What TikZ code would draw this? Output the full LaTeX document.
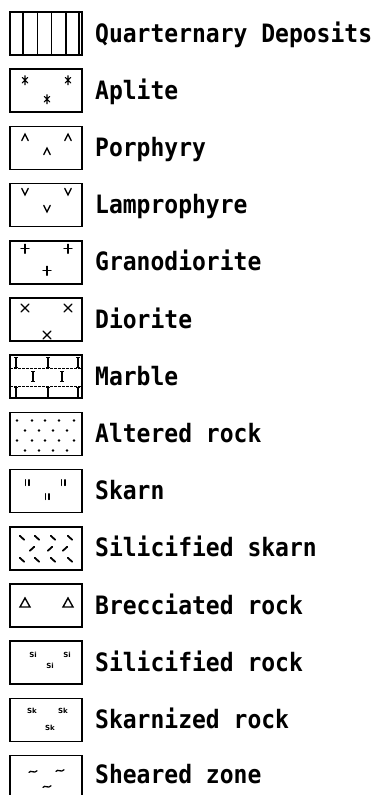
\documentclass[tikz,border=0pt]{standalone}
\usepackage{fontspec}
\newfontfamily\legendfont{DejaVu Sans Mono}
\newfontfamily\tagfont{DejaVu Sans}
\usetikzlibrary{calc}

\tikzset{
  legbox/.style={draw, line width=1.5pt, minimum width=72pt, minimum height=43pt,
    inner sep=0pt, outer sep=0pt, anchor=north west},
  legtext/.style={anchor=base west, inner sep=0pt,
    font=\legendfont\bfseries\fontsize{23}{24}\selectfont},
  symline/.style={line width=1.3pt, line cap=round},
  tag/.style={inner sep=0pt, font=\tagfont\bfseries\fontsize{7}{7}\selectfont},
  aplitemark/.pic={\draw[symline,line width=1.1pt] (-2.8,-2.8)--(2.8,2.8) (-2.8,2.8)--(2.8,-2.8) (0,-4.5)--(0,4.5);},
  caretmark/.pic={\draw[symline] (-3.2,3.2)--(0,-3.2)--(3.2,3.2);},
  veemark/.pic={\draw[symline] (-3.2,-3.2)--(0,3.2)--(3.2,-3.2);},
  plusmark/.pic={\draw[symline] (-4,0)--(4,0) (0,-4.5)--(0,4.5);},
  crossmark/.pic={\draw[symline] (-4,-4)--(4,4) (-4,4)--(4,-4);},
  tickpair/.pic={\draw[symline,line width=1.4pt] (-1.8,-2.8)--(-1.8,2.8) (1.8,-2.8)--(1.8,2.8);},
  trimark/.pic={\draw[line width=1.4pt, line join=miter] (-5,4)--(0,-5)--(5,4)--cycle;},
  bslash/.pic={\draw[line width=1.8pt, line cap=round] (-2.2,-2)--(2.2,2);},
  fslash/.pic={\draw[line width=1.8pt, line cap=round] (-2.2,2)--(2.2,-2);},
  tildemark/.pic={\draw[symline] (-4,0.8) .. controls (-2,-2.2) and (1,2.5) .. (4,-0.8);},
  marblebar/.pic={\draw[line width=2.6pt] (0,0)--(0,10);
                  \draw[line width=1pt] (-2,0)--(2,0) (-2,10)--(2,10);}
}

\newcommand\legentry[3]{%
  \node[legbox] (#1) at (10,#2) {};
  \node[legtext] (#1-t) at (95,#2+30) {\scalebox{1}[1.1]{#3}};}

\begin{document}
\begin{tikzpicture}[x=1pt,y=-1pt]
\useasboundingbox[fill=white] (0,0) rectangle (378,795);

\legentry{quat}{12}{Quarternary Deposits}
\legentry{apl}{69.2}{Aplite}
\legentry{por}{126.4}{Porphyry}
\legentry{lam}{183.6}{Lamprophyre}
\legentry{gra}{240.8}{Granodiorite}
\legentry{dio}{298}{Diorite}
\legentry{mar}{355.2}{Marble}
\legentry{alt}{412.4}{Altered rock}
\legentry{ska}{469.6}{Skarn}
\legentry{ssk}{526.8}{Silicified skarn}
\legentry{bre}{584}{Brecciated rock}
\legentry{sir}{641.2}{Silicified rock}
\legentry{skr}{698.4}{Skarnized rock}
% the last box runs past the lower edge of the page
\node[legbox, minimum height=60pt] (she) at (10,755.6) {};
\node[legtext] (she-t) at (95,755.6+28) {\scalebox{1}[1.1]{Sheared zone}};

% Quarternary deposits: vertical ruling
\begin{scope}[shift={(quat.north west)}]
  \draw[line width=1.2pt] (13,0)--(13,43) (27.5,0)--(27.5,43) (41.5,0)--(41.5,43) (56,0)--(56,43);
  \draw[line width=1.1pt] (69,0)--(69,43);
\end{scope}

% Aplite
\begin{scope}[shift={(apl.north west)}]
  \pic at (15,11) {aplitemark}; \pic at (58,11) {aplitemark}; \pic at (37,30) {aplitemark};
\end{scope}

% Porphyry
\begin{scope}[shift={(por.north west)}]
  \pic at (15,11) {caretmark}; \pic at (58,11) {caretmark}; \pic at (37,25) {caretmark};
\end{scope}

% Lamprophyre
\begin{scope}[shift={(lam.north west)}]
  \pic at (15,8) {veemark}; \pic at (58,8) {veemark}; \pic at (37,25) {veemark};
\end{scope}

% Granodiorite
\begin{scope}[shift={(gra.north west)}]
  \pic at (15,8) {plusmark}; \pic at (58,8) {plusmark}; \pic at (37,30) {plusmark};
\end{scope}

% Diorite
\begin{scope}[shift={(dio.north west)}]
  \pic at (15,10) {crossmark}; \pic at (58,10) {crossmark}; \pic at (37,37) {crossmark};
\end{scope}

% Marble: brick pattern
\begin{scope}[shift={(mar.north west)}]
  \draw[line width=0.8pt, dash pattern=on 3pt off 1pt] (0,13)--(72,13) (0,31)--(72,31);
  \foreach \bx in {6,38,68} { \pic at (\bx,2) {marblebar}; \pic at (\bx,32.5) {marblebar}; }
  \foreach \bx in {23,52} { \pic at (\bx,16.5) {marblebar}; }
\end{scope}

% Altered rock: staggered dots
\begin{scope}[shift={(alt.north west)}]
  \foreach \dy in {8,28} { \foreach \dx in {7,22,35,49,64} { \fill (\dx,\dy) circle (1.4); } }
  \foreach \dy in {18,38} { \foreach \dx in {15,29,43,57} { \fill (\dx,\dy) circle (1.4); } }
\end{scope}

% Skarn
\begin{scope}[shift={(ska.north west)}]
  \pic at (17,13) {tickpair}; \pic at (53,13) {tickpair}; \pic at (37,27) {tickpair};
\end{scope}

% Silicified skarn
\begin{scope}[shift={(ssk.north west)}]
  \foreach \dy in {11,33} { \foreach \dx in {12,27,43,60} { \pic at (\dx,\dy) {bslash}; } }
  \foreach \dx in {22,40,55} { \pic at (\dx,22) {fslash}; }
\end{scope}

% Brecciated rock
\begin{scope}[shift={(bre.north west)}]
  \pic at (15,19) {trimark}; \pic at (58,19) {trimark};
\end{scope}

% Silicified rock
\begin{scope}[shift={(sir.north west)}]
  \node[tag] (si1) at (23,14) {Si};
  \node[tag] (si2) at (57,14) {Si};
  \node[tag] (si3) at (40,25) {Si};
\end{scope}

% Skarnized rock
\begin{scope}[shift={(skr.north west)}]
  \node[tag] (sk1) at (22,12) {Sk};
  \node[tag] (sk2) at (53,12) {Sk};
  \node[tag] (sk3) at (40,29) {Sk};
\end{scope}

% Sheared zone
\begin{scope}[shift={(she.north west)}]
  \pic at (23,16) {tildemark}; \pic at (50,15) {tildemark}; \pic at (37,31) {tildemark};
\end{scope}
\end{tikzpicture}
\end{document}
